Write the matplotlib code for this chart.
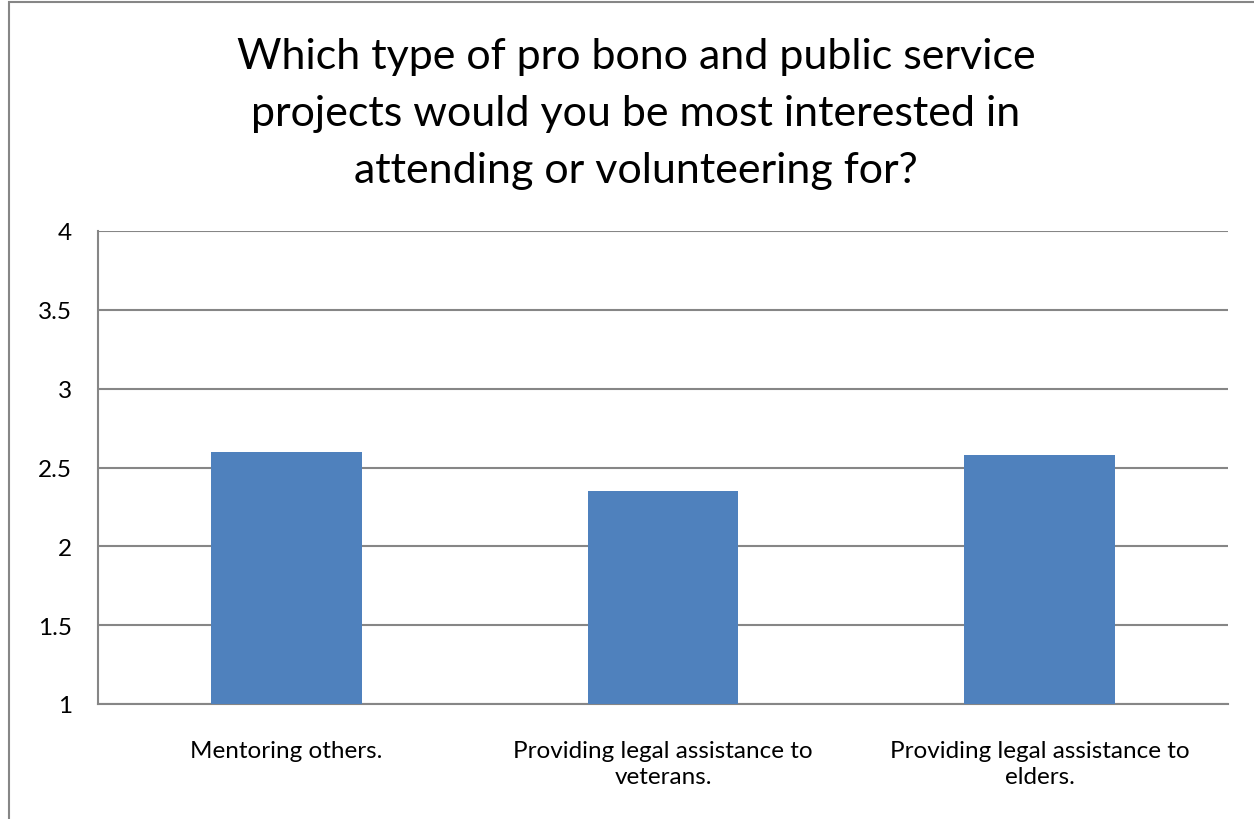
import matplotlib
matplotlib.use("Agg")
import matplotlib.pyplot as plt
from matplotlib.patches import Rectangle

categories = ["Mentoring others.", "Providing legal assistance to\nveterans.",
              "Providing legal assistance to\nelders."]
values = [2.60, 2.35, 2.58]
yticks = [1, 1.5, 2, 2.5, 3, 3.5, 4]
ytick_labels = ["1", "1.5", "2", "2.5", "3", "3.5", "4"]
title = "Which type of pro bono and public service\nprojects would you be most interested in\nattending or volunteering for?"

W, H = 1254, 820
plt.rcParams['font.family'] = ['Lato', 'DejaVu Sans']
fig = plt.figure(figsize=(W / 100, H / 100), dpi=100)
fig.patch.set_facecolor("white")

# outer chart border (extends beyond right/bottom edge)
fig.add_artist(Rectangle((9 / W, -0.05), 1.2, 1 - 3 / H + 0.05, transform=fig.transFigure,
                         fill=False, edgecolor="#868686", linewidth=1.5))

left, right, top, bottom = 98, 1228, 232, 705
ax = fig.add_axes([left / W, 1 - bottom / H, (right - left) / W, (bottom - top) / H])
x = list(range(len(categories)))
ax.bar(x, [v - 1 for v in values], bottom=1, width=0.4, color="#4F81BD", zorder=3)
ax.set_xlim(-0.5, len(categories) - 0.5)
ax.set_ylim(1, 4)
ax.set_yticks(yticks)
ax.set_yticklabels(ytick_labels, fontsize=17.5)
ax.set_xticks(x)
ax.set_xticklabels(categories, fontsize=17.5, linespacing=1.27)
ax.tick_params(axis="y", length=0, pad=18.7)
ax.tick_params(axis="x", length=0, pad=26)
ax.grid(axis="y", color="#868686", linewidth=1.5, zorder=0)
for s in ["top", "right"]:
    ax.spines[s].set_visible(False)
for s in ["left", "bottom"]:
    ax.spines[s].set_color("#868686")
    ax.spines[s].set_linewidth(1.5)

fig.text(636 / W, 1 - 38 / H, title, ha="center", va="top", fontsize=31,
         linespacing=1.62, color="black")

fig.savefig("out.png", dpi=100, facecolor="white")
